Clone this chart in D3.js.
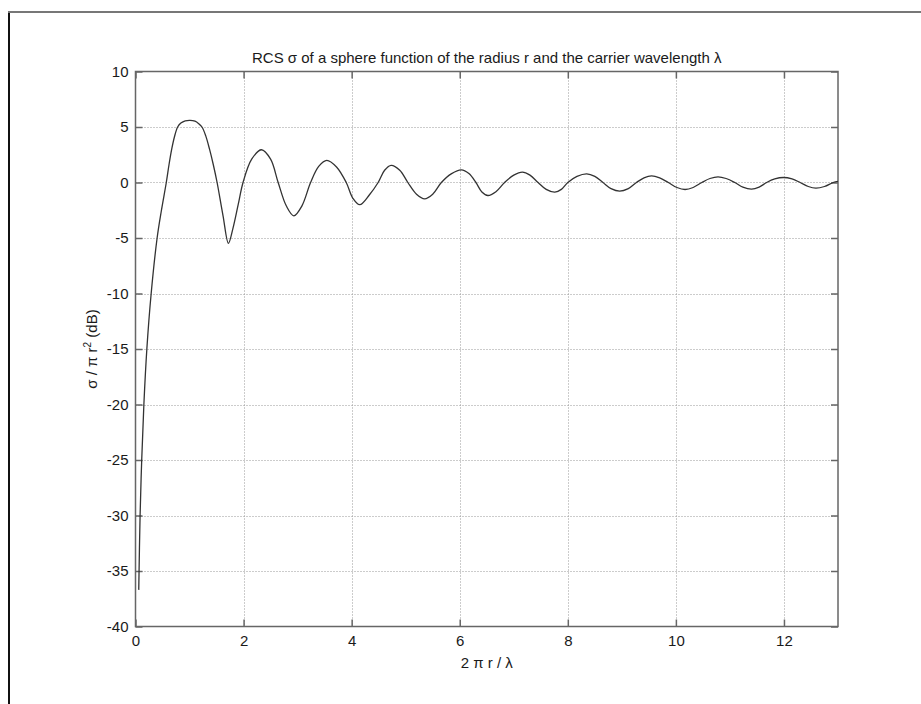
<!DOCTYPE html>
<html><head><meta charset="utf-8">
<script src="https://cdn.jsdelivr.net/npm/d3@7"></script>
<style>
body{margin:0;background:#fff;}
svg{display:block;font-family:"Liberation Sans",Arial,Helvetica,sans-serif;}
</style>
</head><body>
<svg id="chart" width="921" height="704"></svg>
<script>
// ---- data ----
const kr = [0.06,0.085,0.115,0.155,0.21,0.29,0.40,0.48,0.57,0.62,0.67,0.72,0.78,0.84,0.92,1.01,1.10,1.17,1.23,1.30,1.37,1.44,1.51,1.62,1.72,1.80,1.90,1.99,2.15,2.33,2.50,2.64,2.79,2.93,3.08,3.24,3.39,3.54,3.72,3.90,4.02,4.15,4.33,4.49,4.61,4.73,4.89,5.04,5.20,5.35,5.50,5.66,5.85,6.03,6.17,6.30,6.41,6.52,6.67,6.83,7.00,7.16,7.30,7.45,7.60,7.76,7.88,8.00,8.17,8.35,8.50,8.65,8.80,8.96,9.12,9.27,9.41,9.55,9.70,9.86,10.02,10.17,10.32,10.48,10.63,10.78,10.93,11.09,11.24,11.40,11.54,11.68,11.83,11.99,12.15,12.30,12.45,12.59,12.75,12.91,13.0];
const rcsDb = [-36.7,-30,-25,-20,-15,-10,-5,-2.5,0,1.6,3.0,4.1,5.0,5.35,5.55,5.6,5.52,5.3,5.0,4.2,3.0,1.6,0,-3.0,-5.48,-4.2,-2.0,0,2.1,2.95,2.1,0,-2.1,-3.0,-2.1,0,1.45,2.0,1.4,0,-1.4,-2.0,-1.1,0,1.1,1.54,1.1,0,-1.05,-1.47,-1.05,0,0.8,1.14,0.8,0,-0.85,-1.17,-0.83,0,0.66,0.93,0.66,0,-0.62,-0.87,-0.62,0,0.55,0.78,0.55,0,-0.55,-0.78,-0.55,0,0.42,0.6,0.42,0,-0.45,-0.63,-0.45,0,0.36,0.51,0.36,0,-0.42,-0.6,-0.42,0,0.32,0.45,0.32,0,-0.36,-0.51,-0.36,0,0.1];
const xTicks = [0,2,4,6,8,10,12];
const yTicks = [10,5,0,-5,-10,-15,-20,-25,-30,-35,-40];
const titleText = "RCS \u03c3 of a sphere function of the radius r and the carrier wavelength \u03bb";

const svg = d3.select("#chart");
const L = 135.5, R = 838, T = 71.5, B = 626.5;
const x = d3.scaleLinear().domain([0,13]).range([L,R]);
const y = d3.scaleLinear().domain([-40,10]).range([B,T]);

// figure frame
svg.append("line").attr("x1",9).attr("x2",9).attr("y1",11).attr("y2",704).attr("stroke","#111").attr("stroke-width",2);
svg.append("line").attr("x1",8).attr("x2",921).attr("y1",12).attr("y2",12).attr("stroke","#777").attr("stroke-width",2);

// grid
const grid = svg.append("g");
grid.selectAll("line.vx").data(xTicks.filter(d=>d>0)).join("line")
  .attr("x1",d=>Math.round(x(d))+0.5).attr("x2",d=>Math.round(x(d))+0.5)
  .attr("y1",T).attr("y2",B)
  .attr("stroke","#999").attr("stroke-width",1).attr("stroke-dasharray","1,2");
grid.selectAll("line.hy").data(yTicks.filter(d=>d>-40 && d<10)).join("line")
  .attr("y1",d=>Math.round(y(d))+0.5).attr("y2",d=>Math.round(y(d))+0.5)
  .attr("x1",L).attr("x2",R)
  .attr("stroke","#999").attr("stroke-width",1).attr("stroke-dasharray","1,2");

// axes (ticks inside, box on)
const fmt = d => String(d);
function styleAxis(g){
  g.select(".domain").remove();
  g.selectAll(".tick line").attr("stroke","#666").attr("stroke-width",1.5);
  g.selectAll(".tick text").attr("fill","#1a1a1a").style("font-size","15px");
}
svg.append("g").attr("transform",`translate(0,${B})`)
  .call(d3.axisBottom(x).tickValues(xTicks).tickFormat(fmt).tickSize(-7).tickPadding(9)).call(styleAxis);
svg.append("g").attr("transform",`translate(0,${T})`)
  .call(d3.axisTop(x).tickValues(xTicks).tickSize(-7).tickFormat("")).call(styleAxis);
svg.append("g").attr("transform",`translate(${L},0)`)
  .call(d3.axisLeft(y).tickValues(yTicks).tickFormat(fmt).tickSize(-7).tickPadding(7)).call(styleAxis);
svg.append("g").attr("transform",`translate(${R},0)`)
  .call(d3.axisRight(y).tickValues(yTicks).tickSize(-7).tickFormat("")).call(styleAxis);

// axes box
svg.append("rect").attr("x",L).attr("y",T).attr("width",R-L).attr("height",B-T)
  .attr("fill","none").attr("stroke","#666").attr("stroke-width",1.5);

// curve
const pts = kr.map((k,i)=>[k,rcsDb[i]]);
svg.append("path").datum(pts)
  .attr("d", d3.line().x(d=>x(d[0])).y(d=>y(d[1])).curve(d3.curveCatmullRom.alpha(0.5)))
  .attr("fill","none").attr("stroke","#333").attr("stroke-width",1.3);

// title & labels
svg.append("text").attr("x",(L+R)/2).attr("y",T-9).attr("text-anchor","middle")
  .style("font-size","15px").attr("fill","#1a1a1a").text(titleText);
svg.append("text").attr("x",(L+R)/2).attr("y",B+41).attr("text-anchor","middle")
  .style("font-size","15px").attr("fill","#1a1a1a").text("2 \u03c0 r / \u03bb");
const yl = svg.append("text").attr("transform",`translate(97,${(T+B)/2}) rotate(-90)`)
  .attr("text-anchor","middle").style("font-size","15px").attr("fill","#1a1a1a");
yl.append("tspan").text("\u03c3 / \u03c0 r");
yl.append("tspan").attr("dy",-6).style("font-size","10px").text("2");
yl.append("tspan").attr("dy",6).text(" (dB)");
</script>
</body></html>
